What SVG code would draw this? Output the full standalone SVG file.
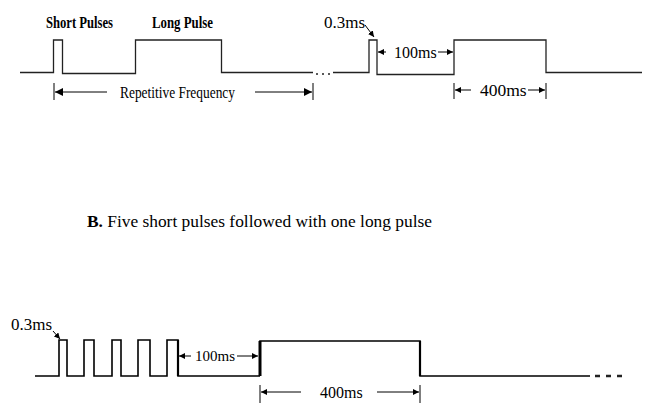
<svg xmlns="http://www.w3.org/2000/svg" width="647" height="419" viewBox="0 0 647 419">
<style>
.w{fill:none;stroke:#222;stroke-width:1.3}
.wb{fill:none;stroke:#000;stroke-width:1.6}
.ln{fill:none;stroke:#000;stroke-width:1}
.t{font-family:"Liberation Serif",serif;fill:#000}
.tc{font-family:"Liberation Serif",serif;fill:#000;font-weight:bold}
</style>
<defs>
<marker id="ah" viewBox="0 0 10 10" refX="10" refY="5" markerWidth="8" markerHeight="8" markerUnits="userSpaceOnUse" orient="auto">
<path d="M0,0 L10,5 L0,10 z" fill="#000"/>
</marker>
<marker id="ahs" viewBox="0 0 10 10" refX="10" refY="5" markerWidth="6" markerHeight="6" markerUnits="userSpaceOnUse" orient="auto">
<path d="M0,0 L10,5 L0,10 z" fill="#000"/>
</marker>
</defs>
<rect width="647" height="419" fill="#fff"/>

<g id="top-waveform">
<path class="w" d="M20,72.5 H53.5 V40 H62.5 V73.5 H135.5 V40 H221.5 V72.5 H313"/>
<circle cx="317" cy="74" r="1" fill="#222"/>
<circle cx="323" cy="74" r="1" fill="#222"/>
<circle cx="329" cy="74" r="1" fill="#222"/>
<path class="w" d="M333,72.5 H369 V40 H377 V74.5 H454 V40 H546 V72.5 H642"/>
</g>

<g id="top-labels">
<text class="tc" x="46" y="28" font-size="16" textLength="67" lengthAdjust="spacingAndGlyphs">Short Pulses</text>
<text class="tc" x="152" y="28" font-size="16" textLength="61" lengthAdjust="spacingAndGlyphs">Long Pulse</text>
<text class="t" x="324" y="28" font-size="17">0.3ms</text>
</g>

<g id="top-dimensions">
<line class="ln" x1="54" y1="83" x2="54" y2="100"/>
<line class="ln" x1="313" y1="83" x2="313" y2="100"/>
<line class="ln" x1="107" y1="92" x2="55" y2="92" marker-end="url(#ah)"/>
<line class="ln" x1="255" y1="92" x2="312" y2="92" marker-end="url(#ah)"/>
<text class="t" x="120" y="97.5" font-size="16.5" textLength="115" lengthAdjust="spacingAndGlyphs">Repetitive Frequency</text>
<line class="ln" x1="365" y1="25" x2="374" y2="37" marker-end="url(#ahs)"/>
<line class="ln" x1="386" y1="52" x2="378" y2="52" marker-end="url(#ahs)"/>
<line class="ln" x1="438" y1="52" x2="453" y2="52" marker-end="url(#ahs)"/>
<text class="t" x="394" y="57.5" font-size="16">100ms</text>
<line class="ln" x1="454" y1="83" x2="454" y2="99"/>
<line class="ln" x1="546" y1="83" x2="546" y2="99"/>
<line class="ln" x1="471" y1="90" x2="455" y2="90" marker-end="url(#ahs)"/>
<line class="ln" x1="528" y1="90" x2="545" y2="90" marker-end="url(#ahs)"/>
<text class="t" x="480" y="96" font-size="17.5">400ms</text>
</g>

<g id="caption">
<text class="t" x="87" y="227" font-size="16" textLength="345" lengthAdjust="spacingAndGlyphs"><tspan font-weight="bold">B.</tspan> Five short pulses followed with one long pulse</text>
</g>

<g id="bottom-waveform">
<path class="wb" d="M35,376 H59 V340 H67 V376 H84 V340 H94 V376 H112 V340 H121 V376 H138 V340 H150 V376 H167 V340 H178 V376 H260"/>
<path class="wb" d="M260,376 V341 H420 V376 H590"/>
<line x1="260" y1="376" x2="260" y2="341" stroke="#000" stroke-width="3"/>
<line x1="178" y1="340" x2="178" y2="376" stroke="#000" stroke-width="2.2"/>
<line x1="420" y1="341" x2="420" y2="376" stroke="#000" stroke-width="2.2"/>
<path d="M595,376 H600 M606,376 H611 M617,376 H622" stroke="#222" stroke-width="2.5" fill="none"/>
</g>

<g id="bottom-labels">
<text class="t" x="11" y="330" font-size="17">0.3ms</text>
<line class="ln" x1="53" y1="331" x2="60" y2="339" marker-end="url(#ahs)"/>
<line class="ln" x1="191" y1="356" x2="179" y2="356" marker-end="url(#ahs)"/>
<line class="ln" x1="237" y1="356" x2="258" y2="356" marker-end="url(#ahs)"/>
<text class="t" x="195" y="361" font-size="15">100ms</text>
<line class="ln" x1="260" y1="385" x2="260" y2="403"/>
<line class="ln" x1="420" y1="385" x2="420" y2="403"/>
<line class="ln" x1="301" y1="392" x2="261" y2="392" marker-end="url(#ahs)"/>
<line class="ln" x1="377" y1="392" x2="419" y2="392" marker-end="url(#ahs)"/>
<text class="t" x="320" y="397.5" font-size="16">400ms</text>
</g>
</svg>
